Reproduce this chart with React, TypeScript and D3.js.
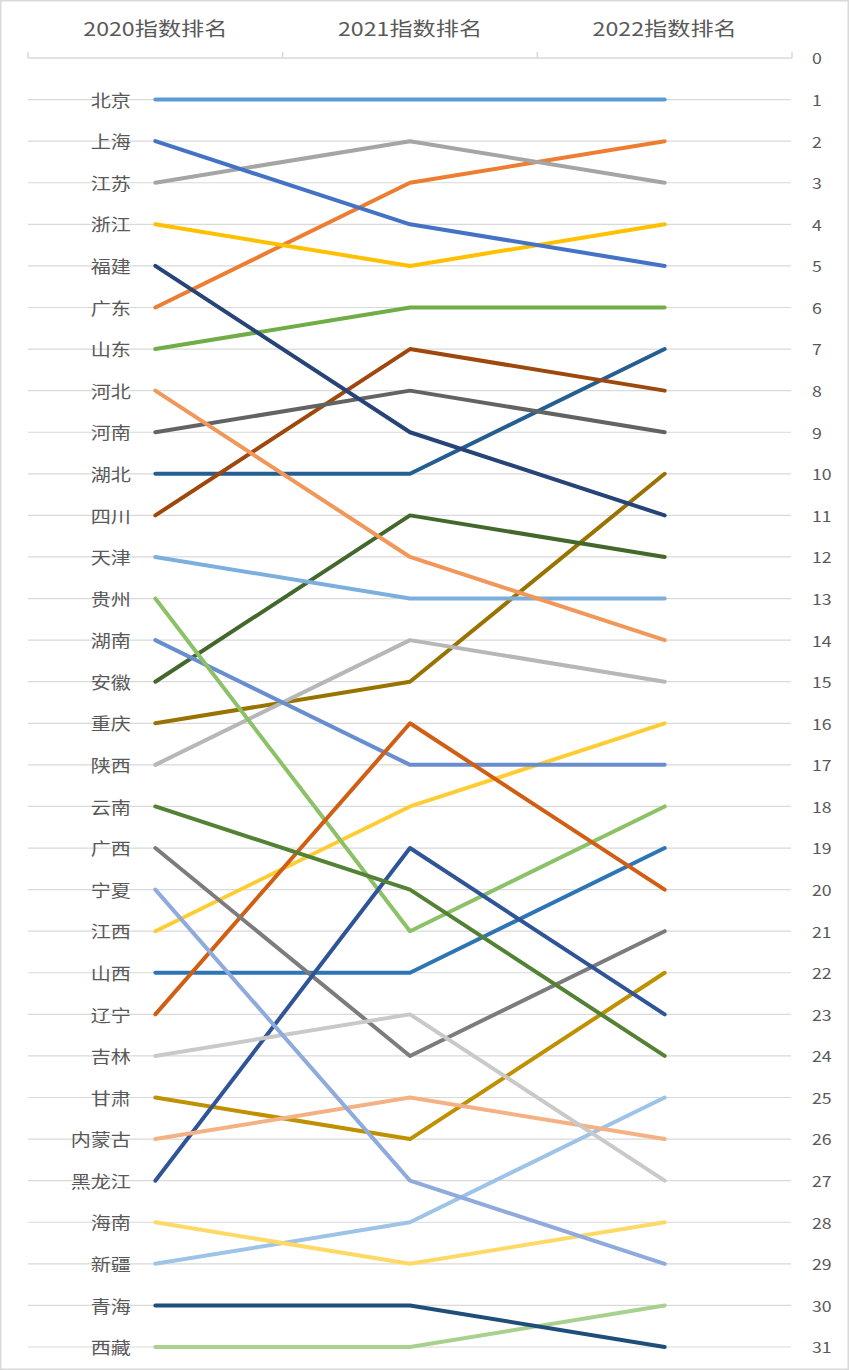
import React from 'react';
import * as d3 from 'd3';

const years = ['2020指数排名', '2021指数排名', '2022指数排名'];
const provinces = ['北京','上海','江苏','浙江','福建','广东','山东','河北','河南','湖北','四川','天津','贵州','湖南','安徽','重庆','陕西','云南','广西','宁夏','江西','山西','辽宁','吉林','甘肃','内蒙古','黑龙江','海南','新疆','青海','西藏'];
const rank2020 = [1,2,3,4,5,6,7,8,9,10,11,12,13,14,15,16,17,18,19,20,21,22,23,24,25,26,27,28,29,30,31];
const rank2021 = [1,4,2,5,9,3,6,12,8,10,7,13,21,17,11,15,14,20,24,27,18,22,16,23,26,25,19,29,28,30,31];
const rank2022 = [1,5,3,4,11,2,6,14,9,7,8,13,18,17,12,10,15,24,21,29,16,19,20,27,22,26,23,28,25,31,30];
const colors = ['#5B9BD5','#4472C4','#A5A5A5','#FFC000','#264478','#ED7D31','#70AD47','#F1975A','#636363','#255E91','#9E480E','#7CAFDD','#8CC168','#698ED0','#43682B','#997300','#B7B7B7','#548235','#7C7C7C','#8FAADC','#FFCD33','#2E75B6','#D05F14','#C9C9C9','#BF9000','#F4B183','#2F5597','#FFD966','#9DC3E6','#1F4E79','#A9D18E'];
const rankTicks = d3.range(0, 32);

const W = 849, H = 1370;
const FONT = '"Noto Sans CJK SC", "Noto Sans", sans-serif';
const TXT = '#595959';

export default function App() {
  const x = d3.scaleBand<string>().domain(years).range([28, 792]);
  const y = d3.scaleLinear().domain([0, 31]).range([58, 1347]);
  const cx = (yr: string) => (x(yr) as number) + x.bandwidth() / 2;
  const line = d3.line<[number, number]>().x(d => d[0]).y(d => d[1]);

  const series = provinces.map((p, i) => ({
    name: p,
    color: colors[i],
    ranks: [rank2020[i], rank2021[i], rank2022[i]],
  }));
  // draw order: by 2022 rank (later series on top)
  const ordered = [...series].sort((a, b) => a.ranks[2] - b.ranks[2]);

  const bounds = [...years.map(yr => x(yr) as number), 792];

  return (
    <svg width={W} height={H} style={{ position: 'absolute', left: 0, top: 0, background: '#fff' }}>
      <rect x={0.75} y={0.75} width={W - 1.5} height={H - 1.5} fill="#fff" stroke="#D9D9D9" strokeWidth={1.5} />
      {/* gridlines */}
      {rankTicks.filter(r => r > 0).map(r => (
        <line key={'g' + r} x1={28} x2={791} y1={y(r)} y2={y(r)} stroke="#D9D9D9" strokeWidth={1.2} />
      ))}
      {/* category axis at top */}
      <line x1={28} x2={792} y1={y(0)} y2={y(0)} stroke="#D9D9D9" strokeWidth={1.5} />
      {bounds.map((b, i) => (
        <line key={'t' + i} x1={b} x2={b} y1={y(0)} y2={y(0) - 6} stroke="#D9D9D9" strokeWidth={1.5} />
      ))}
      {years.map(yr => (
        <text key={yr} transform={`translate(${cx(yr)},27) scale(1.22,1)`} textAnchor="middle" dominantBaseline="central"
          fontFamily={FONT} fontSize={19} fill={TXT}>{yr}</text>
      ))}
      {/* left labels */}
      {series.map(s => (
        <text key={'l' + s.name} transform={`translate(131,${y(s.ranks[0])}) scale(1.22,1)`} textAnchor="end" dominantBaseline="central"
          fontFamily={FONT} fontSize={16.5} fill={TXT}>{s.name}</text>
      ))}
      {/* right axis labels */}
      {rankTicks.map(r => (
        <text key={'r' + r} transform={`translate(812,${y(r)}) scale(1.18,1)`} textAnchor="start" dominantBaseline="central"
          fontFamily={FONT} fontSize={15} fill={TXT}>{r}</text>
      ))}
      {/* lines */}
      {ordered.map(s => (
        <path key={'p' + s.name}
          d={line(s.ranks.map((r, i) => [cx(years[i]), y(r)] as [number, number])) || ''}
          fill="none" stroke={s.color} strokeWidth={4} strokeLinecap="round" strokeLinejoin="round" />
      ))}
    </svg>
  );
}
